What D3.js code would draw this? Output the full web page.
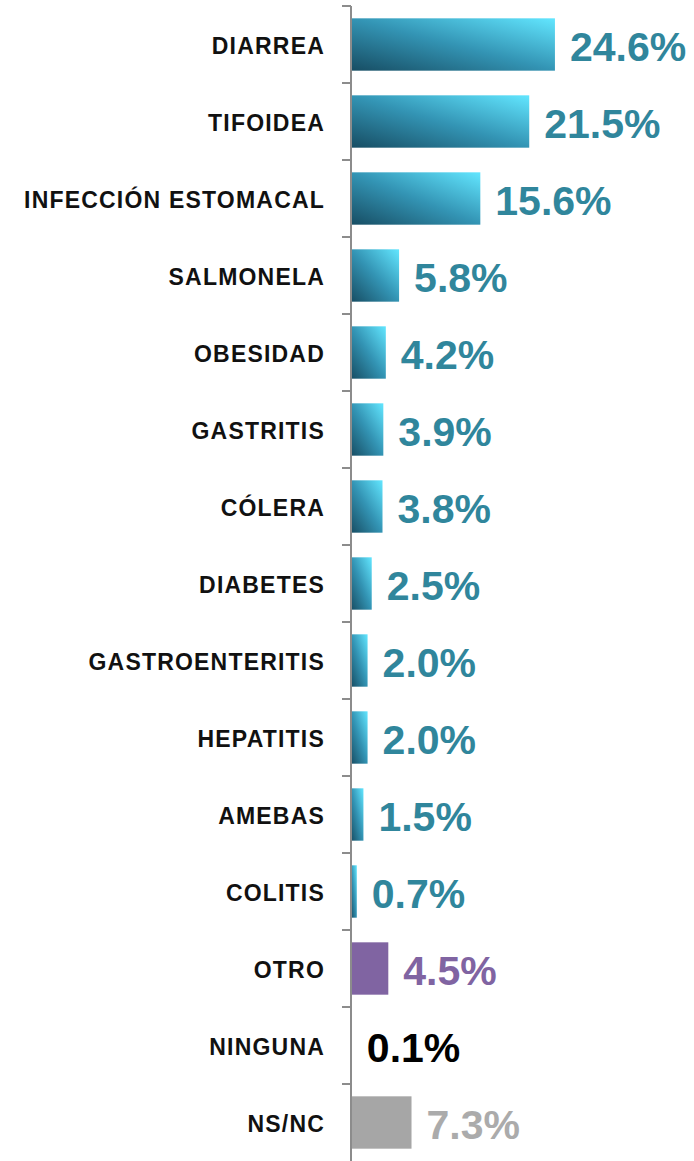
<!DOCTYPE html>
<html>
<head>
<meta charset="utf-8">
<script src="https://d3js.org/d3.v7.min.js"></script>
<style>
  body { margin: 0; background: #fff; }
  svg { display: block; }
</style>
</head>
<body>
<div id="viz"></div>
<script>
// Data
const categories = ["DIARREA", "TIFOIDEA", "INFECCIÓN ESTOMACAL", "SALMONELA", "OBESIDAD",
  "GASTRITIS", "CÓLERA", "DIABETES", "GASTROENTERITIS", "HEPATITIS", "AMEBAS", "COLITIS",
  "OTRO", "NINGUNA", "NS/NC"];
const values = [24.6, 21.5, 15.6, 5.8, 4.2, 3.9, 3.8, 2.5, 2.0, 2.0, 1.5, 0.7, 4.5, 0.1, 7.3];
// bar style per category: gradient for diseases, flat for the rest
const kinds = ["g", "g", "g", "g", "g", "g", "g", "g", "g", "g", "g", "g", "otro", "ninguna", "nsnc"];

const width = 694;
const height = 1161;
const axisX = 351;

const svg = d3.select("#viz").append("svg")
  .attr("width", width)
  .attr("height", height);

const defs = svg.append("defs");
const grad = defs.append("linearGradient")
  .attr("id", "barGrad")
  .attr("x1", 0).attr("y1", 1)
  .attr("x2", 1).attr("y2", 0);
grad.append("stop").attr("offset", "0%").attr("stop-color", "#174d63");
grad.append("stop").attr("offset", "50%").attr("stop-color", "#3394b4");
grad.append("stop").attr("offset", "100%").attr("stop-color", "#62e6ff");

const fills = { g: "url(#barGrad)", otro: "#8064a2", ninguna: "#1a1a1a", nsnc: "#a6a6a6" };
const textColors = { g: "#30869c", otro: "#8064a2", ninguna: "#000000", nsnc: "#ababab" };

const x = d3.scaleLinear().domain([0, 30]).range([axisX, axisX + 30 * 8.29]);
const y = d3.scaleBand().domain(categories).range([6, 1161]).paddingInner(0.32).paddingOuter(0.16);

const rows = categories.map((c, i) => ({ cat: c, val: values[i], kind: kinds[i] }));

// bars
svg.append("g").selectAll("rect")
  .data(rows)
  .join("rect")
  .attr("x", x(0))
  .attr("y", d => y(d.cat))
  .attr("width", d => x(d.val) - x(0))
  .attr("height", y.bandwidth())
  .attr("fill", d => fills[d.kind]);

// category axis
const axis = d3.axisLeft(y).tickSize(0).tickPadding(26);
const gAxis = svg.append("g")
  .attr("transform", `translate(${axisX},0)`)
  .call(axis);
gAxis.select(".domain").attr("stroke", "#8c8c8c").attr("stroke-width", 2)
  .attr("d", `M0,6V${height}`);
gAxis.selectAll("text")
  .style("font-family", "'Liberation Sans', Arial, sans-serif")
  .style("font-weight", "bold")
  .style("font-size", "23px")
  .style("letter-spacing", "1.2px")
  .attr("fill", "#111")
  .attr("dy", "0.42em");

// separators between categories
const step = y.step();
const bounds = d3.range(categories.length).map(i => y(categories[i]) - y.paddingOuter() * step);
svg.append("g").selectAll("line")
  .data(bounds)
  .join("line")
  .attr("x1", axisX - 9).attr("x2", axisX)
  .attr("y1", d => d).attr("y2", d => d)
  .attr("stroke", "#8c8c8c").attr("stroke-width", 2);

// value labels
svg.append("g").selectAll("text")
  .data(rows)
  .join("text")
  .attr("x", d => x(d.val) + 15)
  .attr("y", d => y(d.cat) + y.bandwidth() / 2)
  .attr("dy", "0.41em")
  .style("font-family", "'Liberation Sans', Arial, sans-serif")
  .style("font-weight", "bold")
  .style("font-size", "41px")
  .attr("fill", d => textColors[d.kind])
  .text(d => d.val.toFixed(1) + "%");
</script>
</body>
</html>
